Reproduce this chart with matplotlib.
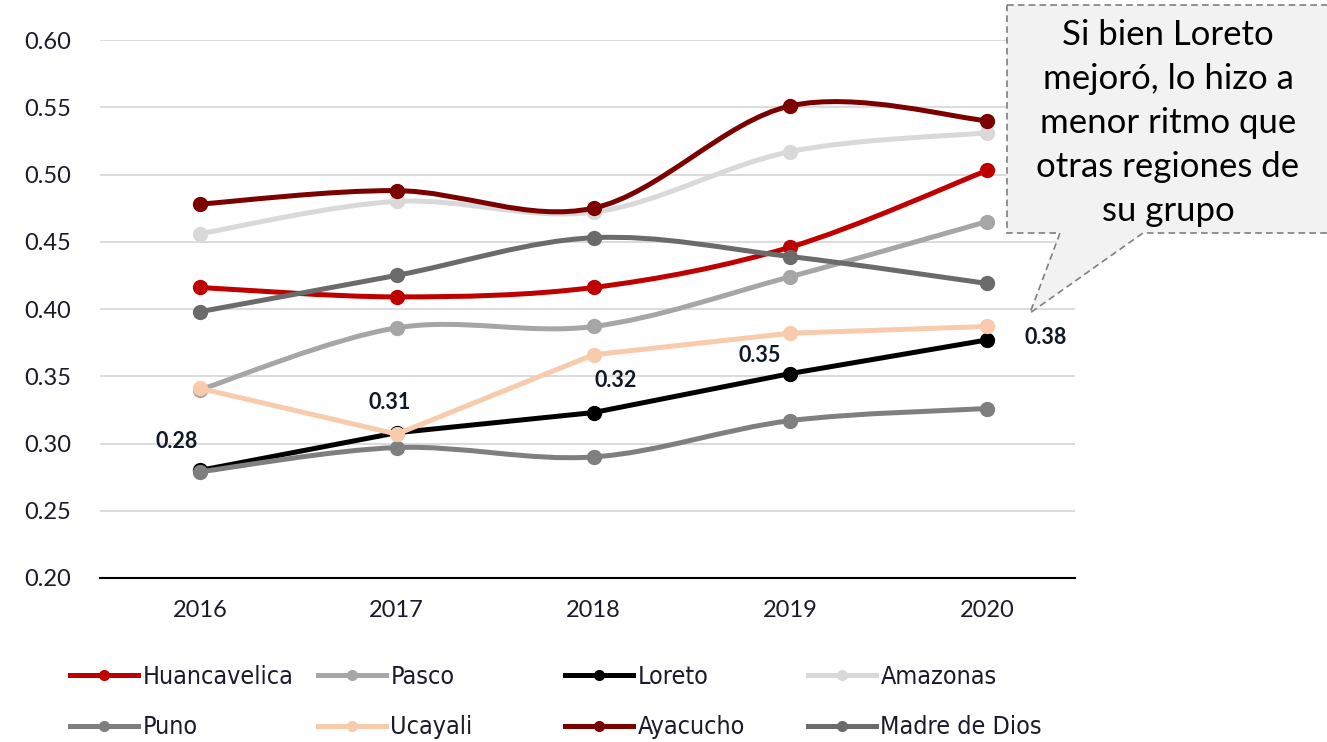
import matplotlib as mpl
mpl.use("Agg")
import matplotlib.pyplot as plt
from matplotlib.path import Path
from matplotlib.patches import PathPatch, Polygon
from matplotlib.lines import Line2D
from matplotlib.transforms import Affine2D
import numpy as np

W, H = 1327, 742

years = ["2016", "2017", "2018", "2019", "2020"]

huancavelica = [0.416, 0.409, 0.416, 0.446, 0.503]
pasco = [0.340, 0.386, 0.387, 0.424, 0.465]
loreto = [0.280, 0.308, 0.323, 0.352, 0.377]
amazonas = [0.456, 0.480, 0.472, 0.517, 0.531]
puno = [0.279, 0.297, 0.290, 0.317, 0.326]
ucayali = [0.341, 0.307, 0.366, 0.382, 0.387]
ayacucho = [0.478, 0.488, 0.475, 0.551, 0.540]
madre_de_dios = [0.398, 0.425, 0.453, 0.439, 0.419]

names = ["Huancavelica", "Pasco", "Loreto", "Amazonas",
         "Puno", "Ucayali", "Ayacucho", "Madre de Dios"]
series = [huancavelica, pasco, loreto, amazonas,
          puno, ucayali, ayacucho, madre_de_dios]
colors = ["#c00000", "#a6a6a6", "#000000", "#d9d9d9",
          "#7f7f7f", "#f8cbad", "#7b0000", "#6b6b6b"]
# Loreto and Ucayali are drawn with straight segments in the original
smoothed = [True, True, False, True, True, False, True, True]

note = "Si bien Loreto\nmejoró, lo hizo a\nmenor ritmo que\notras regiones de\nsu grupo"


def line_path(xs, ys, smooth):
	pts = np.column_stack([xs, ys])
	n = len(pts)
	if not smooth:
		return Path(pts)
	# Excel style smoothed line: Catmull-Rom turned into cubic beziers
	verts = [pts[0]]
	codes = [Path.MOVETO]
	for i in range(n - 1):
		p0 = pts[max(i - 1, 0)]
		p1 = pts[i]
		p2 = pts[i + 1]
		p3 = pts[min(i + 2, n - 1)]
		verts += [p1 + (p2 - p0) / 6.0, p2 - (p3 - p1) / 6.0, p2]
		codes += [Path.CURVE4] * 3
	return Path(verts, codes)


fig = plt.figure(figsize=(W / 100, H / 100), dpi=100)
ax = fig.add_axes([100 / W, 1 - 578 / H, (1075 - 100) / W, (578 - 40) / H])

xs = np.arange(len(years))
for name, ys, c, sm in zip(names, series, colors, smoothed):
	ax.add_patch(PathPatch(line_path(xs, ys, sm), facecolor="none", edgecolor=c,
		lw=3.6, capstyle="round", joinstyle="round", zorder=3))
	ax.plot(xs, ys, linestyle="none", marker="o", ms=10, color=c, zorder=3)

# data labels for Loreto
offsets = [(-17, 21), (-5, 22), (16, 23), (-22, 13), (42, 2)]
for x, v, off in zip(xs, loreto, offsets):
	ax.annotate("%.2f" % v, (x, v), xytext=off, textcoords="offset points",
		ha="center", va="center", fontsize=15.5, fontweight="bold",
		family="Lato", color="#101828", zorder=5)

ax.set_xlim(-0.508, 4.447)
ax.set_ylim(0.20, 0.60)
ax.set_yticks(np.arange(0.20, 0.601, 0.05))
ax.set_yticklabels(["%.2f" % t for t in np.arange(0.20, 0.601, 0.05)])
ax.set_xticks(xs)
ax.set_xticklabels(years)
ax.yaxis.grid(True, color="#d9d9d9", lw=1.3)
ax.set_axisbelow(True)
for s in ["left", "right", "top"]:
	ax.spines[s].set_visible(False)
ax.spines["bottom"].set_color("black")
ax.spines["bottom"].set_linewidth(1.5)
ax.tick_params(axis="both", length=0, labelsize=17, labelcolor="#1a1a2a")
ax.tick_params(axis="y", pad=21)
ax.tick_params(axis="x", pad=16)
for lab in ax.get_xticklabels() + ax.get_yticklabels():
	lab.set_family("Lato")

# callout in pixel coordinates (origin top-left)
px = Affine2D().scale(1.0 / W, -1.0 / H).translate(0, 1) + fig.transFigure
callout = Polygon([(1007, 5), (1340, 5), (1340, 233), (1143, 233), (1030, 313),
	(1060, 233), (1007, 233)], closed=True, transform=px, facecolor="#f2f2f2",
	edgecolor="#7f7f7f", lw=1.2, linestyle=(0, (4, 2.5)), zorder=10)
fig.patches.append(callout)
fig.text(1168 / W, 1 - 123 / H, note, ha="center", va="center", fontsize=25,
	family="Lato", color="black", linespacing=1.47, zorder=11)

# legend: one small legend per column, like Excel's fixed grid
handles = [Line2D([], [], color=c, lw=3.6, marker="o", ms=7) for c in colors]
col_x = [70, 318, 565, 808]
for k in range(4):
	leg = fig.legend([handles[k], handles[k + 4]], [names[k], names[k + 4]],
		loc="upper left", bbox_to_anchor=(col_x[k] / W, 1 - 665 / H),
		frameon=False, borderpad=0, borderaxespad=0, handlelength=2.7,
		handletextpad=0.2, labelspacing=1.05,
		prop={"family": "DejaVu Sans", "stretch": "condensed", "size": 18})
	for t in leg.get_texts():
		t.set_color("#1a1a2a")

fig.savefig("out.png", dpi=100)
